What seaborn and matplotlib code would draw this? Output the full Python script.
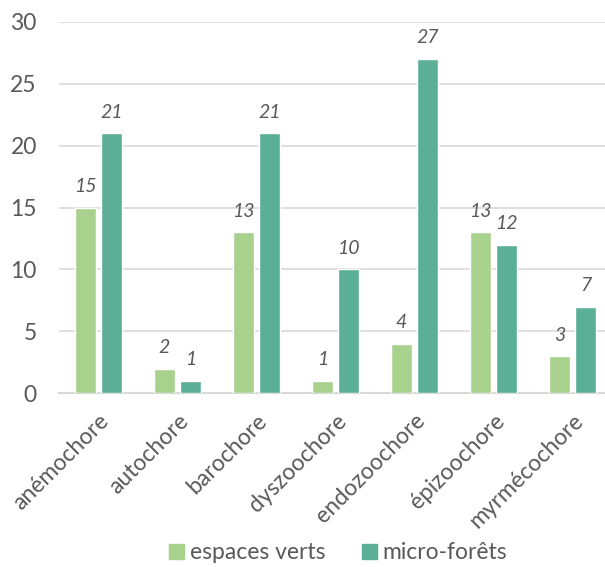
import pandas as pd
import matplotlib.pyplot as plt
import seaborn as sns

categories = ['anémochore', 'autochore', 'barochore', 'dyszoochore',
              'endozoochore', 'épizoochore', 'myrmécochore']
espaces_verts = [15, 2, 13, 1, 4, 13, 3]
micro_forets = [21, 1, 21, 10, 27, 12, 7]
series_names = ['espaces verts', 'micro-forêts']
colors = ['#A9D18E', '#5BAF97']
y_ticks = [0, 5, 10, 15, 20, 25, 30]

df = pd.DataFrame({
    'categorie': categories * 2,
    'valeur': espaces_verts + micro_forets,
    'serie': [series_names[0]] * len(categories) + [series_names[1]] * len(categories),
})

sns.set_theme(style="white")
plt.rcParams['font.family'] = ['Lato', 'DejaVu Sans']
text_col = '#595959'

fig = plt.figure(figsize=(6.05, 5.67), dpi=100)
ax = fig.add_axes([59 / 605, 0.3063, 553 / 605, 0.6554])

sns.barplot(data=df, x='categorie', y='valeur', hue='serie', palette=colors,
            width=0.66, gap=0.19, saturation=1, ax=ax, legend=False, zorder=3)

# data labels
for container in ax.containers:
    ax.bar_label(container, padding=9, fontsize=14, style='italic', color=text_col)

ax.set_ylim(0, 30)
ax.set_xlim(-0.5, 6.5)
ax.set_yticks(y_ticks)
ax.yaxis.grid(True, color='#D9D9D9', linewidth=1.2, zorder=0)
ax.set_xlabel('')
ax.set_ylabel('')
for s in ['top', 'right', 'left']:
    ax.spines[s].set_visible(False)
ax.spines['bottom'].set_color('#D9D9D9')
ax.spines['bottom'].set_linewidth(1.5)
ax.tick_params(axis='y', length=0, pad=16, labelsize=16.5, labelcolor=text_col)
ax.tick_params(axis='x', length=0, pad=12, labelsize=16.5, labelcolor=text_col)
plt.setp(ax.get_xticklabels(), rotation=45, ha='right', rotation_mode='anchor')

handles = [plt.Rectangle((0, 0), 1, 1, color=c) for c in colors]
leg = fig.legend(handles, series_names, loc='lower center', bbox_to_anchor=(0.559, -0.03),
                 ncol=2, frameon=False, fontsize=16.5, handlelength=0.65, handleheight=0.65,
                 handletextpad=0.25, columnspacing=1.6)
for t in leg.get_texts():
    t.set_color(text_col)

fig.savefig('out.png', dpi=100)
